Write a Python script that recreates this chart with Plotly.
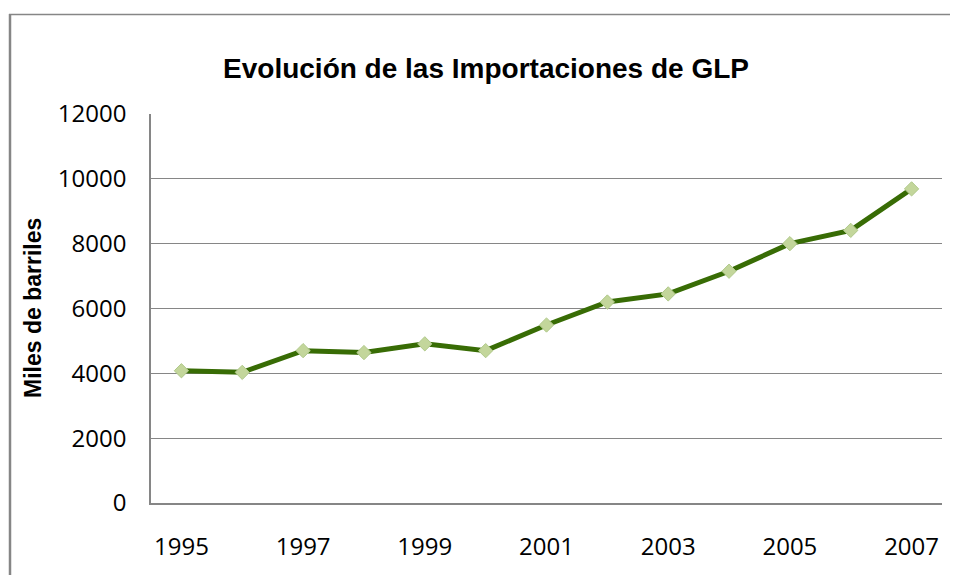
import plotly.graph_objects as go

years = ["1995", "1996", "1997", "1998", "1999", "2000", "2001",
         "2002", "2003", "2004", "2005", "2006", "2007"]
imports = [4080, 4030, 4700, 4640, 4910, 4700, 5490,
           6200, 6450, 7150, 8000, 8410, 9690]
x_tick_labels = ["1995", "1997", "1999", "2001", "2003", "2005", "2007"]
y_ticks = [0, 2000, 4000, 6000, 8000, 10000, 12000]
y_tick_text = [str(v) for v in y_ticks]

title_text = "Evolución de las Importaciones de GLP"
y_title = "Miles de barriles"

# page body has an 8px default margin; work in reference pixels, offset by it,
# and keep the figure inside the viewport so no scrollbars appear
OFF = 8
W, H = 958 - 2 * OFF, 583 - 2 * OFF
L, R, T, B = 151 - OFF, 942 - OFF, 114 - OFF, 503 - OFF


def px_x(p):
    return (p - OFF - L) / (R - L)


def px_y(p):
    return (B - (p - OFF)) / (B - T)


fig = go.Figure()
fig.add_trace(go.Scatter(
    x=years, y=imports, mode="lines+markers",
    line=dict(color="#386c05", width=5),
    marker=dict(symbol="diamond", size=11, color="#c3d69b",
                line=dict(color="#b0c98a", width=1)),
    showlegend=False,
))

tick_font = dict(family="Open Sans, Liberation Sans, sans-serif", size=24, color="#000000")

fig.update_layout(
    width=W, height=H, autosize=False,
    paper_bgcolor="white", plot_bgcolor="white",
    margin=dict(l=L, r=W - R, t=T, b=H - B, pad=0),
    title=dict(text=title_text, x=(486 - OFF) / W, xref="container", xanchor="center",
               y=1 - (68 - OFF) / H, yref="container", yanchor="middle",
               font=dict(family="Liberation Sans, Arial, sans-serif", size=28,
                         color="#000000", weight="bold")),
    xaxis=dict(type="category", categoryorder="array", categoryarray=years,
               range=[-0.5, len(years) - 0.5],
               tickmode="array", tickvals=x_tick_labels, ticktext=x_tick_labels,
               showgrid=False, showline=True, linecolor="#868686", linewidth=1.5,
               ticks="", tickfont=tick_font, ticklabelstandoff=21, zeroline=False),
    yaxis=dict(range=[0, 12000], tickmode="array", tickvals=y_ticks, ticktext=y_tick_text,
               showgrid=True, gridcolor="#868686", gridwidth=1.3,
               showline=True, linecolor="#868686", linewidth=1.5,
               ticks="", tickfont=tick_font, ticklabelstandoff=18, zeroline=False),
    annotations=[dict(text=y_title, textangle=-90, xref="paper", yref="paper",
                      x=px_x(33), y=px_y(308), xanchor="center", yanchor="middle",
                      showarrow=False,
                      font=dict(family="Liberation Sans, Arial, sans-serif", size=23,
                                color="#000000", weight="bold"))],
    shapes=[
        dict(type="line", xref="paper", yref="paper",
             x0=px_x(9), x1=px_x(962), y0=px_y(14.5), y1=px_y(14.5),
             line=dict(color="#868686", width=1.5)),
        dict(type="line", xref="paper", yref="paper",
             x0=px_x(10), x1=px_x(10), y0=px_y(14), y1=px_y(590),
             line=dict(color="#868686", width=2.5)),
    ],
)

fig.write_html("out.html")
